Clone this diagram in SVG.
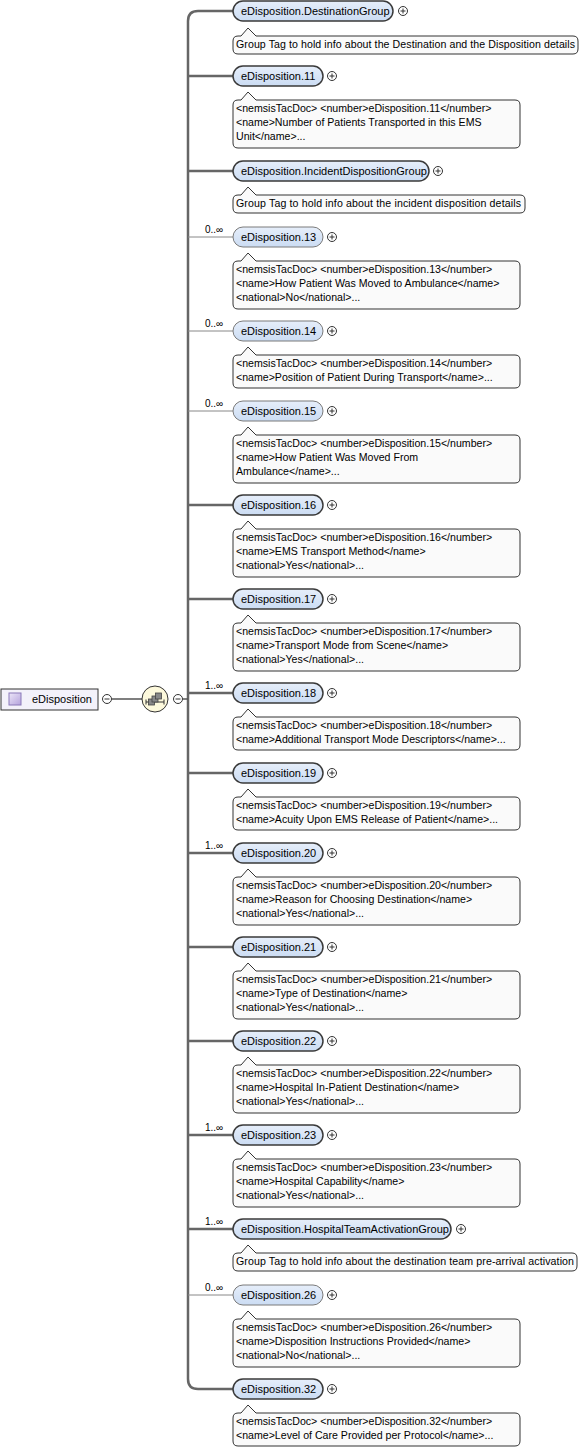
<svg xmlns="http://www.w3.org/2000/svg" width="586" height="1450" viewBox="0 0 586 1450">
<style>
text{font-family:"Liberation Sans",Arial,sans-serif;fill:#000}
.nt{font-size:11px}
.at{font-size:10.6px}
.mt{font-size:10px}
.req{fill:url(#ng);stroke:#3a3a3a;stroke-width:1.5}
.opt{fill:url(#ng);stroke:#7a7a7a;stroke-width:1}
.ann{fill:#fafafa;stroke:#333;stroke-width:1}
.pl{fill:#fff;stroke:#333;stroke-width:1}
.ps{stroke:#333;stroke-width:1;fill:none}
.thick{stroke:#666;stroke-width:2.5;fill:none}
.thin{stroke:#888;stroke-width:1;fill:none}
</style>
<defs>
<linearGradient id="ng" x1="0" y1="0" x2="0" y2="1"><stop offset="0" stop-color="#e6eefa"/><stop offset="1" stop-color="#cbdcf3"/></linearGradient>
<linearGradient id="ig" x1="0" y1="0" x2="1" y2="1"><stop offset="0" stop-color="#ece6f8"/><stop offset="1" stop-color="#b4a2dc"/></linearGradient>
<g id="plus"><circle r="4.5" class="pl"/><path d="M-2.5 0H2.5M0 -2.5V2.5" class="ps"/></g>
<g id="minus"><circle r="4.5" class="pl"/><path d="M-2.5 0H2.5" class="ps"/></g>
</defs>

<g id="connectors">
<path class="thick" d="M233 11H198Q188 11 188 21V1379Q188 1389 198 1389H233"/>
<path class="thick" d="M188 76H233M188 171H233M188 505H233M188 599H233M188 693H233M188 773H233M188 853H233M188 947H233M188 1041H233M188 1135H233M188 1229H233"/>
<path class="thin" d="M188 237H233M188 331H233M188 411H233M188 1295H233"/>
<path d="M112 699H142" stroke="#555" stroke-width="1.5"/>
<path d="M183 699H188" stroke="#555" stroke-width="1.5"/>
</g>

<g id="root">
<rect x="1" y="689" width="97" height="21" fill="#f3f1fa" stroke="#333" stroke-width="1"/>
<rect x="9" y="693" width="12" height="12" fill="url(#ig)" stroke="#8a78b8" stroke-width="1"/>
<text class="nt" x="32" y="703">eDisposition</text>
<use href="#minus" x="107" y="699"/>
</g>

<g id="sequence">
<circle cx="155" cy="699" r="13" fill="#fdf9dc" stroke="#333" stroke-width="1"/>
<path d="M146 702H164" stroke="#333" stroke-width="1"/>
<path d="M146 699.5V704.5M164 699.5V704.5" stroke="#333" stroke-width="1"/>
<rect x="148.5" y="699" width="6" height="6" fill="#888" stroke="#444" stroke-width="0.8"/>
<rect x="152" y="696" width="6" height="6" fill="#888" stroke="#444" stroke-width="0.8"/>
<rect x="155.5" y="693" width="6" height="6" fill="#888" stroke="#444" stroke-width="0.8"/>
<use href="#minus" x="178" y="699"/>
</g>

<g id="n-DestinationGroup">
<rect class="req" x="233" y="1" width="160" height="20" rx="10"/>
<text class="nt" x="241" y="15">eDisposition.DestinationGroup</text>
<use href="#plus" x="403" y="11"/>
<path class="ann" d="M238 36H241L248 28L256 36H573Q578 36 578 41V49Q578 54 573 54H238Q233 54 233 49V41Q233 36 238 36Z"/>
<text class="at" x="236" y="48" textLength="339">Group Tag to hold info about the Destination and the Disposition details</text>
</g>

<g id="n-11">
<rect class="req" x="233" y="66" width="90" height="20" rx="10"/>
<text class="nt" x="241" y="80">eDisposition.11</text>
<use href="#plus" x="332" y="76"/>
<path class="ann" d="M238 100H241L248 92L256 100H515Q520 100 520 105V143Q520 148 515 148H238Q233 148 233 143V105Q233 100 238 100Z"/>
<text class="at" x="236" y="112">&lt;nemsisTacDoc&gt; &lt;number&gt;eDisposition.11&lt;/number&gt;</text>
<text class="at" x="236" y="126">&lt;name&gt;Number of Patients Transported in this EMS</text>
<text class="at" x="236" y="140">Unit&lt;/name&gt;...</text>
</g>

<g id="n-IncidentDispositionGroup">
<rect class="req" x="233" y="161" width="196" height="20" rx="10"/>
<text class="nt" x="241" y="175">eDisposition.IncidentDispositionGroup</text>
<use href="#plus" x="438" y="171"/>
<path class="ann" d="M238 195H241L248 187L256 195H520Q525 195 525 200V208Q525 213 520 213H238Q233 213 233 208V200Q233 195 238 195Z"/>
<text class="at" x="236" y="207" textLength="285">Group Tag to hold info about the incident disposition details</text>
</g>

<g id="n-13">
<text class="mt" x="205" y="233">0..∞</text>
<rect class="opt" x="233" y="227" width="90" height="20" rx="10"/>
<text class="nt" x="241" y="241">eDisposition.13</text>
<use href="#plus" x="332" y="237"/>
<path class="ann" d="M238 261H241L248 253L256 261H515Q520 261 520 266V304Q520 309 515 309H238Q233 309 233 304V266Q233 261 238 261Z"/>
<text class="at" x="236" y="273">&lt;nemsisTacDoc&gt; &lt;number&gt;eDisposition.13&lt;/number&gt;</text>
<text class="at" x="236" y="287">&lt;name&gt;How Patient Was Moved to Ambulance&lt;/name&gt;</text>
<text class="at" x="236" y="301">&lt;national&gt;No&lt;/national&gt;...</text>
</g>

<g id="n-14">
<text class="mt" x="205" y="327">0..∞</text>
<rect class="opt" x="233" y="321" width="90" height="20" rx="10"/>
<text class="nt" x="241" y="335">eDisposition.14</text>
<use href="#plus" x="332" y="331"/>
<path class="ann" d="M238 355H241L248 347L256 355H515Q520 355 520 360V383Q520 388 515 388H238Q233 388 233 383V360Q233 355 238 355Z"/>
<text class="at" x="236" y="367">&lt;nemsisTacDoc&gt; &lt;number&gt;eDisposition.14&lt;/number&gt;</text>
<text class="at" x="236" y="381">&lt;name&gt;Position of Patient During Transport&lt;/name&gt;...</text>
</g>

<g id="n-15">
<text class="mt" x="205" y="407">0..∞</text>
<rect class="opt" x="233" y="401" width="90" height="20" rx="10"/>
<text class="nt" x="241" y="415">eDisposition.15</text>
<use href="#plus" x="332" y="411"/>
<path class="ann" d="M238 435H241L248 427L256 435H515Q520 435 520 440V478Q520 483 515 483H238Q233 483 233 478V440Q233 435 238 435Z"/>
<text class="at" x="236" y="447">&lt;nemsisTacDoc&gt; &lt;number&gt;eDisposition.15&lt;/number&gt;</text>
<text class="at" x="236" y="461">&lt;name&gt;How Patient Was Moved From</text>
<text class="at" x="236" y="475">Ambulance&lt;/name&gt;...</text>
</g>

<g id="n-16">
<rect class="req" x="233" y="495" width="90" height="20" rx="10"/>
<text class="nt" x="241" y="509">eDisposition.16</text>
<use href="#plus" x="332" y="505"/>
<path class="ann" d="M238 529H241L248 521L256 529H515Q520 529 520 534V572Q520 577 515 577H238Q233 577 233 572V534Q233 529 238 529Z"/>
<text class="at" x="236" y="541">&lt;nemsisTacDoc&gt; &lt;number&gt;eDisposition.16&lt;/number&gt;</text>
<text class="at" x="236" y="555">&lt;name&gt;EMS Transport Method&lt;/name&gt;</text>
<text class="at" x="236" y="569">&lt;national&gt;Yes&lt;/national&gt;...</text>
</g>

<g id="n-17">
<rect class="req" x="233" y="589" width="90" height="20" rx="10"/>
<text class="nt" x="241" y="603">eDisposition.17</text>
<use href="#plus" x="332" y="599"/>
<path class="ann" d="M238 623H241L248 615L256 623H515Q520 623 520 628V666Q520 671 515 671H238Q233 671 233 666V628Q233 623 238 623Z"/>
<text class="at" x="236" y="635">&lt;nemsisTacDoc&gt; &lt;number&gt;eDisposition.17&lt;/number&gt;</text>
<text class="at" x="236" y="649">&lt;name&gt;Transport Mode from Scene&lt;/name&gt;</text>
<text class="at" x="236" y="663">&lt;national&gt;Yes&lt;/national&gt;...</text>
</g>

<g id="n-18">
<text class="mt" x="205" y="689">1..∞</text>
<rect class="req" x="233" y="683" width="90" height="20" rx="10"/>
<text class="nt" x="241" y="697">eDisposition.18</text>
<use href="#plus" x="332" y="693"/>
<path class="ann" d="M238 717H241L248 709L256 717H515Q520 717 520 722V745Q520 750 515 750H238Q233 750 233 745V722Q233 717 238 717Z"/>
<text class="at" x="236" y="729">&lt;nemsisTacDoc&gt; &lt;number&gt;eDisposition.18&lt;/number&gt;</text>
<text class="at" x="236" y="743">&lt;name&gt;Additional Transport Mode Descriptors&lt;/name&gt;...</text>
</g>

<g id="n-19">
<rect class="req" x="233" y="763" width="90" height="20" rx="10"/>
<text class="nt" x="241" y="777">eDisposition.19</text>
<use href="#plus" x="332" y="773"/>
<path class="ann" d="M238 797H241L248 789L256 797H515Q520 797 520 802V825Q520 830 515 830H238Q233 830 233 825V802Q233 797 238 797Z"/>
<text class="at" x="236" y="809">&lt;nemsisTacDoc&gt; &lt;number&gt;eDisposition.19&lt;/number&gt;</text>
<text class="at" x="236" y="823">&lt;name&gt;Acuity Upon EMS Release of Patient&lt;/name&gt;...</text>
</g>

<g id="n-20">
<text class="mt" x="205" y="849">1..∞</text>
<rect class="req" x="233" y="843" width="90" height="20" rx="10"/>
<text class="nt" x="241" y="857">eDisposition.20</text>
<use href="#plus" x="332" y="853"/>
<path class="ann" d="M238 877H241L248 869L256 877H515Q520 877 520 882V920Q520 925 515 925H238Q233 925 233 920V882Q233 877 238 877Z"/>
<text class="at" x="236" y="889">&lt;nemsisTacDoc&gt; &lt;number&gt;eDisposition.20&lt;/number&gt;</text>
<text class="at" x="236" y="903">&lt;name&gt;Reason for Choosing Destination&lt;/name&gt;</text>
<text class="at" x="236" y="917">&lt;national&gt;Yes&lt;/national&gt;...</text>
</g>

<g id="n-21">
<rect class="req" x="233" y="937" width="90" height="20" rx="10"/>
<text class="nt" x="241" y="951">eDisposition.21</text>
<use href="#plus" x="332" y="947"/>
<path class="ann" d="M238 971H241L248 963L256 971H515Q520 971 520 976V1014Q520 1019 515 1019H238Q233 1019 233 1014V976Q233 971 238 971Z"/>
<text class="at" x="236" y="983">&lt;nemsisTacDoc&gt; &lt;number&gt;eDisposition.21&lt;/number&gt;</text>
<text class="at" x="236" y="997">&lt;name&gt;Type of Destination&lt;/name&gt;</text>
<text class="at" x="236" y="1011">&lt;national&gt;Yes&lt;/national&gt;...</text>
</g>

<g id="n-22">
<rect class="req" x="233" y="1031" width="90" height="20" rx="10"/>
<text class="nt" x="241" y="1045">eDisposition.22</text>
<use href="#plus" x="332" y="1041"/>
<path class="ann" d="M238 1065H241L248 1057L256 1065H515Q520 1065 520 1070V1108Q520 1113 515 1113H238Q233 1113 233 1108V1070Q233 1065 238 1065Z"/>
<text class="at" x="236" y="1077">&lt;nemsisTacDoc&gt; &lt;number&gt;eDisposition.22&lt;/number&gt;</text>
<text class="at" x="236" y="1091">&lt;name&gt;Hospital In-Patient Destination&lt;/name&gt;</text>
<text class="at" x="236" y="1105">&lt;national&gt;Yes&lt;/national&gt;...</text>
</g>

<g id="n-23">
<text class="mt" x="205" y="1131">1..∞</text>
<rect class="req" x="233" y="1125" width="90" height="20" rx="10"/>
<text class="nt" x="241" y="1139">eDisposition.23</text>
<use href="#plus" x="332" y="1135"/>
<path class="ann" d="M238 1159H241L248 1151L256 1159H515Q520 1159 520 1164V1202Q520 1207 515 1207H238Q233 1207 233 1202V1164Q233 1159 238 1159Z"/>
<text class="at" x="236" y="1171">&lt;nemsisTacDoc&gt; &lt;number&gt;eDisposition.23&lt;/number&gt;</text>
<text class="at" x="236" y="1185">&lt;name&gt;Hospital Capability&lt;/name&gt;</text>
<text class="at" x="236" y="1199">&lt;national&gt;Yes&lt;/national&gt;...</text>
</g>

<g id="n-HospitalTeamActivationGroup">
<text class="mt" x="205" y="1225">1..∞</text>
<rect class="req" x="233" y="1219" width="218" height="20" rx="10"/>
<text class="nt" x="241" y="1233">eDisposition.HospitalTeamActivationGroup</text>
<use href="#plus" x="461" y="1229"/>
<path class="ann" d="M238 1253H241L248 1245L256 1253H572Q577 1253 577 1258V1266Q577 1271 572 1271H238Q233 1271 233 1266V1258Q233 1253 238 1253Z"/>
<text class="at" x="236" y="1265" textLength="338">Group Tag to hold info about the destination team pre-arrival activation</text>
</g>

<g id="n-26">
<text class="mt" x="205" y="1291">0..∞</text>
<rect class="opt" x="233" y="1285" width="90" height="20" rx="10"/>
<text class="nt" x="241" y="1299">eDisposition.26</text>
<use href="#plus" x="332" y="1295"/>
<path class="ann" d="M238 1319H241L248 1311L256 1319H515Q520 1319 520 1324V1362Q520 1367 515 1367H238Q233 1367 233 1362V1324Q233 1319 238 1319Z"/>
<text class="at" x="236" y="1331">&lt;nemsisTacDoc&gt; &lt;number&gt;eDisposition.26&lt;/number&gt;</text>
<text class="at" x="236" y="1345">&lt;name&gt;Disposition Instructions Provided&lt;/name&gt;</text>
<text class="at" x="236" y="1359">&lt;national&gt;No&lt;/national&gt;...</text>
</g>

<g id="n-32">
<rect class="req" x="233" y="1379" width="90" height="20" rx="10"/>
<text class="nt" x="241" y="1393">eDisposition.32</text>
<use href="#plus" x="332" y="1389"/>
<path class="ann" d="M238 1413H241L248 1405L256 1413H515Q520 1413 520 1418V1441Q520 1446 515 1446H238Q233 1446 233 1441V1418Q233 1413 238 1413Z"/>
<text class="at" x="236" y="1425">&lt;nemsisTacDoc&gt; &lt;number&gt;eDisposition.32&lt;/number&gt;</text>
<text class="at" x="236" y="1439">&lt;name&gt;Level of Care Provided per Protocol&lt;/name&gt;...</text>
</g>
</svg>
